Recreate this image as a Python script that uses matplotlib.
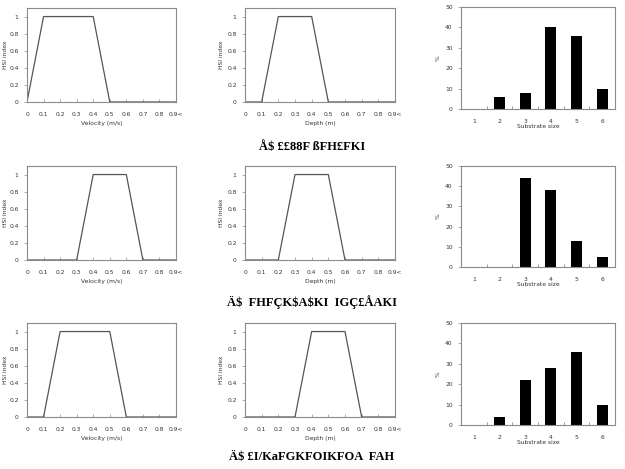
import numpy as np
import matplotlib
matplotlib.use('Agg')
import matplotlib.pyplot as plt

# HSI curves (trapezoid break points) for velocity and depth, per row
vel_x = [[0, 0.1, 0.4, 0.5, 0.9],
         [0, 0.3, 0.4, 0.6, 0.7, 0.9],
         [0, 0.1, 0.2, 0.5, 0.6, 0.9]]
vel_y = [[0, 1, 1, 0, 0],
         [0, 0, 1, 1, 0, 0],
         [0, 0, 1, 1, 0, 0]]
dep_x = [[0, 0.1, 0.2, 0.4, 0.5, 0.9],
         [0, 0.2, 0.3, 0.5, 0.6, 0.9],
         [0, 0.3, 0.4, 0.6, 0.7, 0.9]]
dep_y = [[0, 0, 1, 1, 0, 0],
         [0, 0, 1, 1, 0, 0],
         [0, 0, 1, 1, 0, 0]]

substrate = [1, 2, 3, 4, 5, 6]
sub_pct = [[0, 6, 8, 40, 36, 10],
           [0, 0, 44, 38, 13, 5],
           [0, 4, 22, 28, 36, 10]]

x_ticks = [0, 0.1, 0.2, 0.3, 0.4, 0.5, 0.6, 0.7, 0.8, 0.9]
x_ticklabels = ['0', '0.1', '0.2', '0.3', '0.4', '0.5', '0.6', '0.7', '0.8', '0.9<']
captions = ['Å$ ££88F ßFH£FKI',
            'Ä$  FHFÇK$A$KI  IGÇ£ÅAKI',
            'Ä$ £I/KaFGKFOIKFOA  FAH']

W, H = 625, 469
fig = plt.figure(figsize=(6.25, 4.69), dpi=100)

frame = '#8a8a8a'
line = '#555555'
txt = '#333333'
fs = 4.3


def px_axes(x0, y0, x1, y1):
    return fig.add_axes([x0 / W, 1 - y1 / H, (x1 - x0) / W, (y1 - y0) / H])


def style(ax):
    for s in ax.spines.values():
        s.set_color(frame)
        s.set_linewidth(0.8)
    ax.tick_params(labelsize=fs, length=2, width=0.5, color=frame,
                   labelcolor=txt, pad=4)
    ax.tick_params(axis='x', pad=7)


row_top = [8, 166, 323]
row_bot = [102, 260, 417]
bar_top = [7, 166, 323]
bar_bot = [109, 267, 425]
cap_y = [147, 302, 457]

for r in range(3):
    # velocity
    ax = px_axes(27, row_top[r], 176, row_bot[r])
    ax.plot(vel_x[r], vel_y[r], color=line, lw=0.9)
    ax.set_xlim(0, 0.9)
    ax.set_ylim(0, 1.1)
    ax.set_xticks(x_ticks)
    ax.set_xticklabels(x_ticklabels)
    ax.set_yticks([0, 0.2, 0.4, 0.6, 0.8, 1])
    ax.set_yticklabels(['0', '0.2', '0.4', '0.6', '0.8', '1'])
    ax.set_xlabel('Velocity (m/s)', fontsize=fs, labelpad=3, color=txt)
    ax.set_ylabel('HSI index', fontsize=fs, labelpad=1, color=txt)
    style(ax)
    ax.tick_params(axis='x', direction='in')

    # depth
    ax = px_axes(245, row_top[r], 395, row_bot[r])
    ax.plot(dep_x[r], dep_y[r], color=line, lw=0.9)
    ax.set_xlim(0, 0.9)
    ax.set_ylim(0, 1.1)
    ax.set_xticks(x_ticks)
    ax.set_xticklabels(x_ticklabels)
    ax.set_yticks([0, 0.2, 0.4, 0.6, 0.8, 1])
    ax.set_yticklabels(['0', '0.2', '0.4', '0.6', '0.8', '1'])
    ax.set_xlabel('Depth (m)', fontsize=fs, labelpad=3, color=txt)
    ax.set_ylabel('HSI index', fontsize=fs, labelpad=2, color=txt)
    style(ax)
    ax.tick_params(axis='x', direction='in')

    # substrate
    ax = px_axes(461, bar_top[r], 615, bar_bot[r])
    ax.bar(substrate, sub_pct[r], width=0.42, color='black')
    ax.set_xlim(0.5, 6.5)
    ax.set_ylim(0, 50)
    ax.set_xticks(substrate)
    ax.set_xticks([1.5, 2.5, 3.5, 4.5, 5.5], minor=True)
    ax.set_yticks([0, 10, 20, 30, 40, 50])
    ax.set_xlabel('Substrate size', fontsize=fs, labelpad=0, color=txt)
    ax.set_ylabel('%', fontsize=fs, labelpad=3, color=txt)
    style(ax)
    ax.tick_params(axis='x', which='major', length=0)
    ax.tick_params(axis='x', which='minor', length=2, direction='in', color=frame)

    fig.text(312 / W, 1 - cap_y[r] / H, captions[r], ha='center', va='center',
             fontsize=9, family='Liberation Serif', fontweight='bold')

fig.savefig('out.png', dpi=100)
